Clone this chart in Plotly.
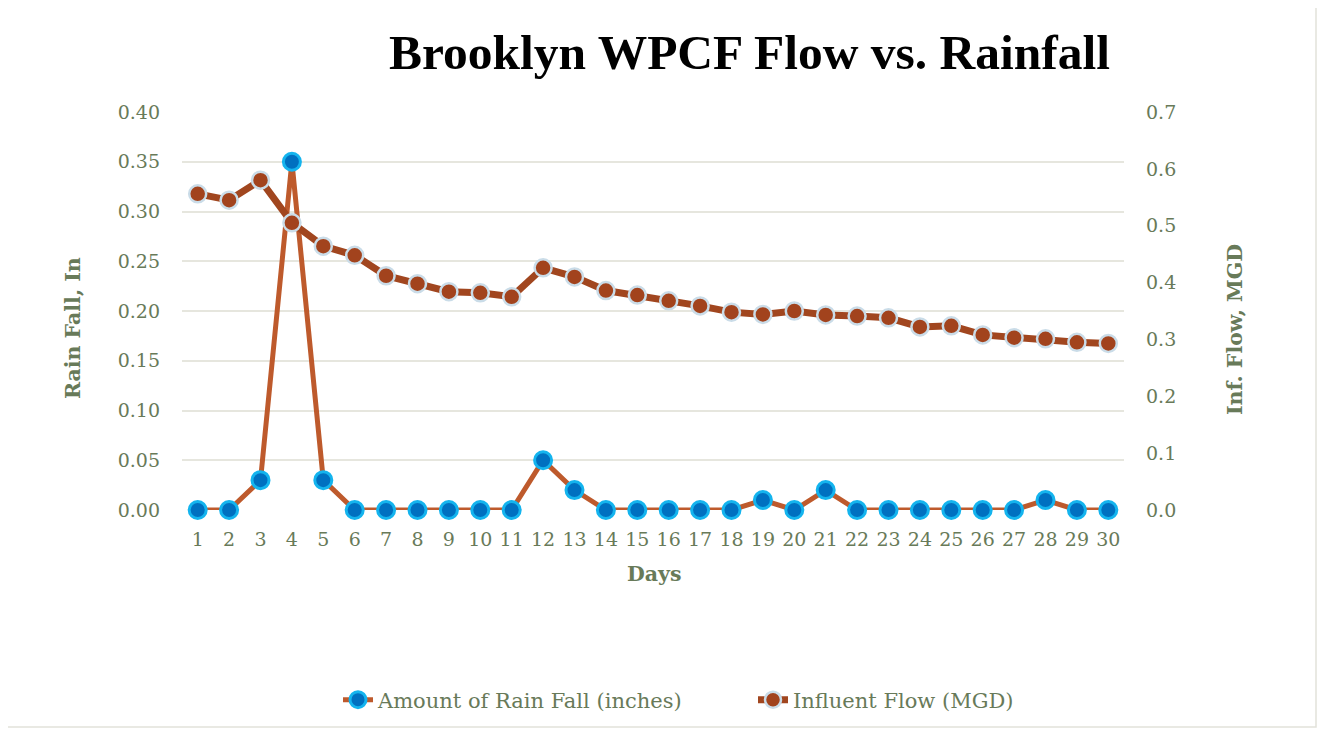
import plotly.graph_objects as go

days = list(range(1, 31))
day_labels = [str(d) for d in days]
rain_in = [0, 0, 0.03, 0.35, 0.03, 0, 0, 0, 0, 0, 0, 0.05, 0.02, 0, 0, 0, 0, 0,
           0.01, 0, 0.02, 0, 0, 0, 0, 0, 0, 0.01, 0, 0]
flow_mgd = [0.556, 0.545, 0.580, 0.505, 0.464, 0.448, 0.412, 0.398, 0.384, 0.382,
            0.375, 0.426, 0.410, 0.386, 0.378, 0.368, 0.359, 0.348, 0.344, 0.350,
            0.343, 0.341, 0.338, 0.322, 0.324, 0.308, 0.303, 0.301, 0.295, 0.293]
left_ticks = [0.0, 0.05, 0.10, 0.15, 0.20, 0.25, 0.30, 0.35, 0.40]
right_ticks = [0.0, 0.1, 0.2, 0.3, 0.4, 0.5, 0.6, 0.7]

SERIF_W = "DejaVu Serif, Georgia, serif"
SERIF_N = "Liberation Serif, Times New Roman, serif"
TXT = "#687A59"
GRID = "#E6E6DE"

OFF = 8  # default page margin of the html body
W, H = 1326 - 2 * OFF, 736 - 2 * OFF
L, R, T, B = 182 - OFF, 1124 - OFF, 112 - OFF, 510 - OFF


def px(x):
    return (x - OFF - L) / (R - L)


def py(y):
    return (B - (y - OFF)) / (B - T)


fig = go.Figure()
fig.add_trace(go.Scatter(
    x=days, y=rain_in, name="Amount of Rain Fall (inches)", mode="lines+markers",
    line=dict(color="#BE5A2C", width=5), cliponaxis=False,
    marker=dict(size=17, color="#0070C0", line=dict(color="#14B4EE", width=3)),
    yaxis="y"))
fig.add_trace(go.Scatter(
    x=days, y=flow_mgd, name="Influent Flow (MGD)", mode="lines+markers",
    line=dict(color="#A1461F", width=7), cliponaxis=False,
    marker=dict(size=17, color="#A2431D", line=dict(color="#CADCE8", width=2.5)),
    yaxis="y2"))

fig.update_layout(
    width=W, height=H,
    margin=dict(l=L, r=W - R, t=T, b=H - B, autoexpand=False),
    paper_bgcolor="white", plot_bgcolor="white",
    font=dict(family=SERIF_W, color=TXT, size=19),
    showlegend=True,
    legend=dict(orientation="h", x=(338 - OFF) / W, xanchor="left", xref="container",
                y=1 - (700 - OFF) / H, yanchor="middle", yref="container",
                font=dict(size=21, color=TXT, family=SERIF_W),
                entrywidth=370, entrywidthmode="pixels", tracegroupgap=0),
    xaxis=dict(range=[0.5, 30.5], tickmode="array", tickvals=days, ticktext=day_labels,
               showgrid=False, zeroline=False, showline=False, ticks="",
               tickangle=0, ticklabelstandoff=16, tickfont=dict(size=19, color=TXT)),
    yaxis=dict(range=[0, 0.4], tickmode="array", tickvals=left_ticks,
               ticktext=[f"{v:.2f}" for v in left_ticks],
               showgrid=True, gridcolor=GRID, gridwidth=2, zeroline=False,
               showline=False, ticks="", ticklabelstandoff=21,
               tickfont=dict(size=19, color=TXT)),
    yaxis2=dict(range=[0, 0.7], tickmode="array", tickvals=right_ticks,
                ticktext=[f"{v:.1f}" for v in right_ticks],
                overlaying="y", side="right", showgrid=False, zeroline=False,
                showline=False, ticks="", ticklabelstandoff=21,
                tickfont=dict(size=19, color=TXT)),
    annotations=[
        dict(text="<b>Brooklyn WPCF Flow vs. Rainfall</b>", x=px(749), y=py(53),
             xref="paper", yref="paper", showarrow=False, xanchor="center", yanchor="middle",
             font=dict(size=49.5, color="black", family=SERIF_N)),
        dict(text="<b>Rain Fall, In</b>", x=px(73), y=py(328), xref="paper", yref="paper",
             showarrow=False, textangle=-90, xanchor="center", yanchor="middle",
             font=dict(size=20.5, color=TXT, family=SERIF_W)),
        dict(text="<b>Inf. Flow, MGD</b>", x=px(1235), y=py(330), xref="paper", yref="paper",
             showarrow=False, textangle=-90, xanchor="center", yanchor="middle",
             font=dict(size=20.5, color=TXT, family=SERIF_W)),
        dict(text="<b>Days</b>", x=px(654), y=py(574), xref="paper", yref="paper",
             showarrow=False, xanchor="center", yanchor="middle",
             font=dict(size=20.5, color=TXT, family=SERIF_W)),
    ],
    shapes=[dict(type="rect", xref="paper", yref="paper",
                 x0=px(3), x1=px(1316), y0=py(727), y1=py(5),
                 line=dict(color="#E2E2DA", width=1.5), fillcolor="rgba(0,0,0,0)",
                 layer="below")],
)

fig.write_html("out.html")
